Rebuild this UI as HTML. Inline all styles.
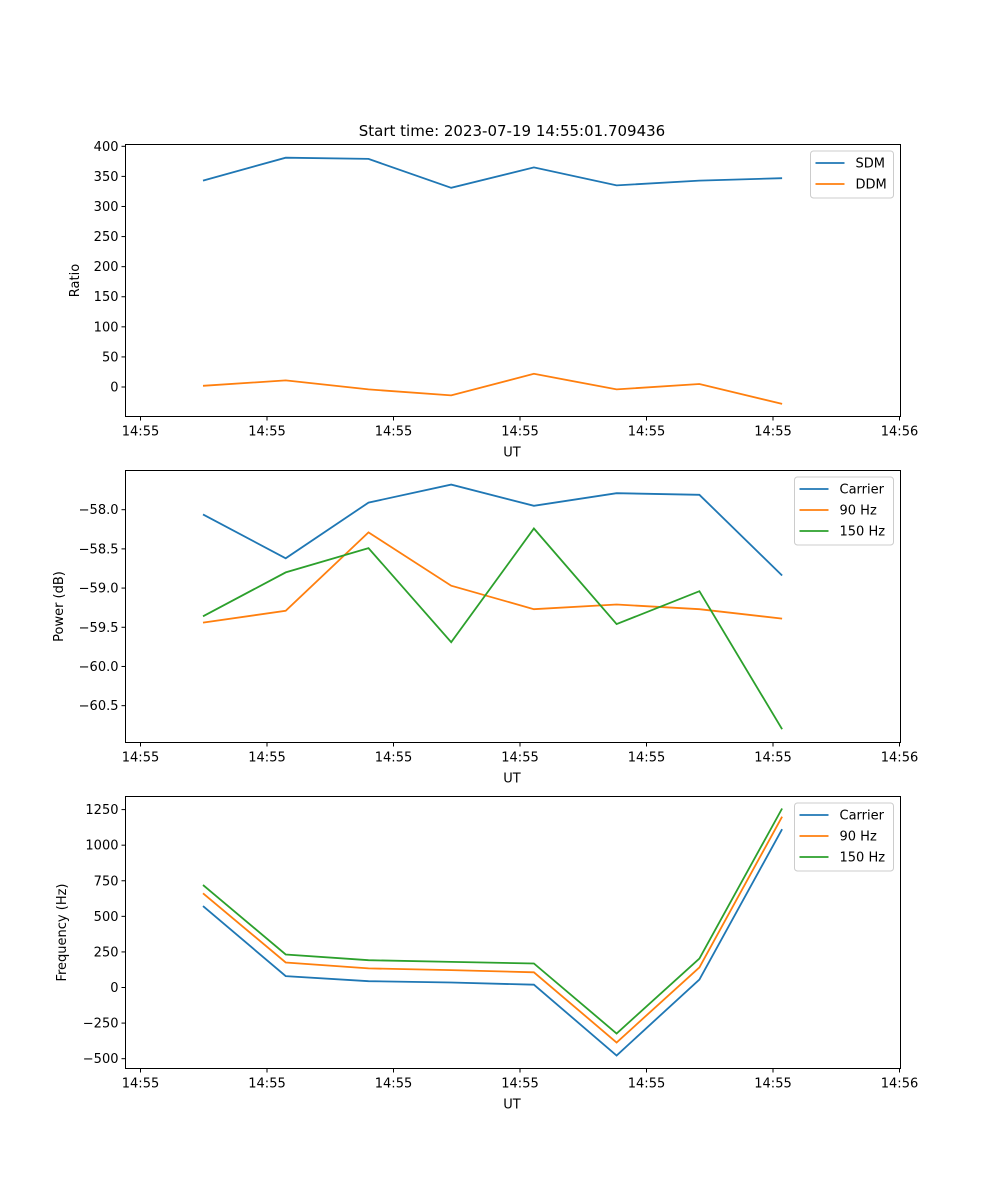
<!DOCTYPE html>
<html><head><meta charset="utf-8"><style>
html,body{margin:0;padding:0;background:#fff}
svg{display:block;font-family:"DejaVu Sans","Liberation Sans",sans-serif}
</style></head><body>
<svg id="fig" width="1000" height="1200" xmlns="http://www.w3.org/2000/svg">
<rect width="1000" height="1200" fill="#fff"/>
<text x="512" y="136" font-size="15" text-anchor="middle">Start time: 2023-07-19 14:55:01.709436</text>
</svg>
<script>
// time in seconds after 14:55:00
const times = [4.94, 11.48, 18.02, 24.56, 31.1, 37.64, 44.18, 50.72];
const xTicks = [0, 10, 20, 30, 40, 50, 60];
const xTickLabels = ["14:55","14:55","14:55","14:55","14:55","14:55","14:56"];

const sdm = [343, 381, 379, 331, 365, 335, 343, 347];
const ddm = [2, 11, -4, -14, 22, -4, 5, -28];
const ratioTicks = [0, 50, 100, 150, 200, 250, 300, 350, 400];

const pwrCarrier = [-58.06, -58.62, -57.91, -57.68, -57.95, -57.79, -57.81, -58.84];
const pwr90 = [-59.44, -59.29, -58.29, -58.97, -59.27, -59.21, -59.27, -59.39];
const pwr150 = [-59.36, -58.80, -58.49, -59.69, -58.24, -59.46, -59.04, -60.80];
const pwrTicks = [-60.5, -60.0, -59.5, -59.0, -58.5, -58.0];

const frqCarrier = [572, 80, 44, 35, 20, -478, 56, 1112];
const frq90 = [662, 176, 134, 122, 107, -386, 141, 1200];
const frq150 = [720, 232, 192, 180, 169, -323, 204, 1258];
const frqTicks = [-500, -250, 0, 250, 500, 750, 1000, 1250];

const NS = "http://www.w3.org/2000/svg";
const svg = document.getElementById("fig");
const L = 125.5, R = 900.5;
const xS = t => 140.5 + t * 12.65;
function mk(tag, attrs, parent) {
  const e = document.createElementNS(NS, tag);
  for (const k in attrs) e.setAttribute(k, attrs[k]);
  (parent || svg).appendChild(e);
  return e;
}
function panel(name, top, bottom, ymin, ymax, yTicks, fmt, ylabel, ylabelX, series, legend) {
  const g = mk("g", {});
  
  
  const yS = v => bottom - (v - ymin) / (ymax - ymin) * (bottom - top);
  series.forEach(s => {
    const pts = s.vals.map((v, i) => xS(times[i]).toFixed(1) + "," + yS(v).toFixed(1)).join(" ");
    const pl = mk("polyline", {points: pts, fill: "none", stroke: s.color, "stroke-width": 1.8}, g);
    
    
  });
  const frame = mk("rect", {x: L, y: top, width: R - L, height: bottom - top, fill: "none", stroke: "#000", "stroke-width": 1}, g);
  
  
  xTicks.forEach((t, i) => {
    const x = xS(t);
    mk("line", {x1: x, x2: x, y1: bottom, y2: bottom + 4, stroke: "#000"}, g);
    const tx = mk("text", {x: x, y: bottom + 19, "font-size": 13, "text-anchor": "middle"}, g);
    tx.textContent = xTickLabels[i];
    
    
  });
  yTicks.forEach(v => {
    const y = yS(v);
    mk("line", {x1: L - 4, x2: L, y1: y, y2: y, stroke: "#000"}, g);
    const tx = mk("text", {x: L - 7, y: y + 4.5, "font-size": 13, "text-anchor": "end"}, g);
    tx.textContent = fmt(v);
    
    
  });
  const xl = mk("text", {x: 512, y: bottom + 40, "font-size": 13, "text-anchor": "middle"}, g);
  xl.textContent = "UT";
  
  
  const cy = (top + bottom) / 2;
  const yl = mk("text", {x: ylabelX, y: cy, "font-size": 13, "text-anchor": "middle", transform: "rotate(-90 " + ylabelX + " " + cy + ")"}, g);
  yl.textContent = ylabel;
  
  
  const lg = mk("g", {}, g);
  
  
  const lx = legend.x, ly = top + 6.5, h = 5 + series.length * 21;
  mk("rect", {x: lx, y: ly, width: 893.5 - lx, height: h, rx: 3, fill: "#fff", "fill-opacity": 0.8, stroke: "#ccc"}, lg);
  series.forEach((s, i) => {
    const y = ly + 12 + i * 21;
    const e = mk("g", {}, lg);
    
    
    mk("line", {x1: lx + 5, x2: lx + 34, y1: y, y2: y, stroke: s.color, "stroke-width": 1.8}, e);
    const t = mk("text", {x: lx + 45, y: y + 4.5, "font-size": 13}, e);
    t.textContent = s.label;
  });
}
const BLUE = "#1f77b4", ORANGE = "#ff7f0e", GREEN = "#2ca02c";
panel("ratio-panel", 144.5, 416.5, -49, 403, ratioTicks, v => String(v), "Ratio", 79,
  [{id: "sdm", label: "SDM", vals: sdm, color: BLUE}, {id: "ddm", label: "DDM", vals: ddm, color: ORANGE}], {x: 810.5});
panel("power-panel", 470.5, 742.5, -60.97, -57.5, pwrTicks, v => "\u2212" + Math.abs(v).toFixed(1), "Power (dB)", 63,
  [{id: "carrier", label: "Carrier", vals: pwrCarrier, color: BLUE}, {id: "90hz", label: "90 Hz", vals: pwr90, color: ORANGE}, {id: "150hz", label: "150 Hz", vals: pwr150, color: GREEN}], {x: 794.5});
panel("frequency-panel", 796.5, 1068.5, -569, 1342, frqTicks, v => (v < 0 ? "\u2212" : "") + Math.abs(v), "Frequency (Hz)", 66,
  [{id: "carrier", label: "Carrier", vals: frqCarrier, color: BLUE}, {id: "90hz", label: "90 Hz", vals: frq90, color: ORANGE}, {id: "150hz", label: "150 Hz", vals: frq150, color: GREEN}], {x: 794.5});
</script>
</body></html>
